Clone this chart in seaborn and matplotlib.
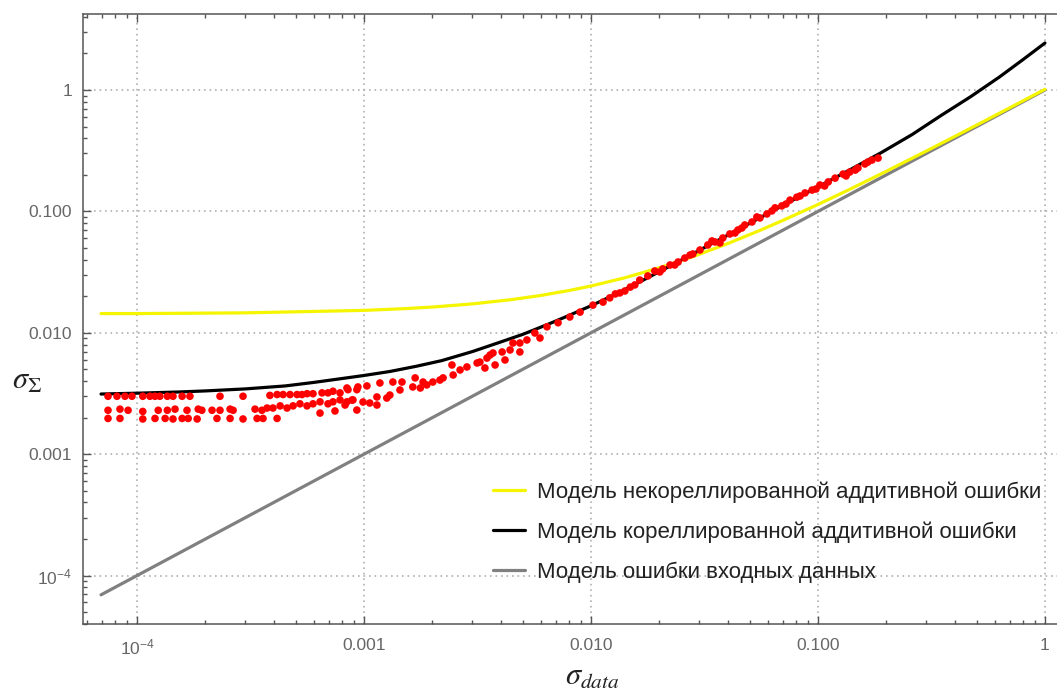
import numpy as np
import pandas as pd
import matplotlib
matplotlib.use("Agg")
import matplotlib.pyplot as plt
import seaborn as sns
from matplotlib.ticker import FixedLocator, FixedFormatter, NullFormatter

# ---------------- data ----------------
gray_x = [6.94e-5, 1.0]
gray_y = [6.94e-5, 1.0]

yellow_x = [6.94e-5, 1e-4, 3e-4, 1e-3, 1.5e-3, 2e-3, 3e-3, 4.5e-3, 6e-3, 8e-3, 1e-2, 1.4e-2, 2e-2,
            2.8e-2, 4e-2, 5.5e-2, 7e-2, 0.1, 0.14, 0.2, 0.3, 0.4, 0.55, 0.7, 1.0]
yellow_y = [0.0144, 0.0144, 0.0146, 0.0153, 0.0158, 0.0163, 0.0173, 0.0188, 0.0203, 0.0223, 0.0243,
            0.0283, 0.0343, 0.0423, 0.0543, 0.0693, 0.0843, 0.114, 0.154, 0.214, 0.314, 0.414,
            0.564, 0.714, 1.014]

black_x = [6.94e-5, 1e-4, 1.5e-4, 2e-4, 3e-4, 4.5e-4, 6e-4, 8e-4, 1e-3, 1.3e-3, 1.7e-3, 2.2e-3,
           3e-3, 4e-3, 5e-3, 6.5e-3, 8e-3, 1e-2, 1.3e-2, 1.7e-2, 2.2e-2, 3e-2, 4e-2, 5.5e-2,
           7.5e-2, 0.1, 0.14, 0.19, 0.26, 0.35, 0.47, 0.63, 0.8, 1.0]
black_y = [3.13e-3, 3.18e-3, 3.25e-3, 3.32e-3, 3.45e-3, 3.65e-3, 3.9e-3, 4.2e-3, 4.45e-3, 4.8e-3,
           5.3e-3, 5.9e-3, 7.0e-3, 8.4e-3, 9.7e-3, 1.18e-2, 1.39e-2, 1.67e-2, 2.1e-2, 2.72e-2,
           3.5e-2, 4.78e-2, 6.37e-2, 8.78e-2, 0.12, 0.159, 0.223, 0.305, 0.43, 0.62, 0.88, 1.28,
           1.78, 2.44]

# red measured points: upper row at low sigma
red_top_x = [7.45e-5, 8.16e-5, 8.85e-5, 9.5e-5, 1.06e-4, 1.14e-4, 1.2e-4, 1.26e-4, 1.36e-4, 1.44e-4,
             1.58e-4, 1.71e-4, 2.32e-4, 2.93e-4, 3.85e-4, 4.14e-4, 4.4e-4, 4.72e-4, 5.07e-4, 5.33e-4,
             5.61e-4, 5.96e-4, 6.53e-4, 6.94e-4, 7.3e-4, 7.84e-4, 8.5e-4, 9.3e-4]
red_top_y = [3.0e-3, 3.0e-3, 3.0e-3, 3.0e-3, 3.0e-3, 3.0e-3, 3.0e-3, 3.0e-3, 3.0e-3, 3.0e-3,
             3.0e-3, 3.0e-3, 3.0e-3, 3.0e-3, 3.05e-3, 3.1e-3, 3.1e-3, 3.1e-3, 3.1e-3, 3.1e-3,
             3.15e-3, 3.15e-3, 3.2e-3, 3.2e-3, 3.3e-3, 3.2e-3, 3.4e-3, 3.4e-3]
# middle row
red_mid_x = [7.45e-5, 8.41e-5, 9.13e-5, 1.06e-4, 1.24e-4, 1.36e-4, 1.47e-4, 1.66e-4, 1.86e-4, 1.93e-4,
             2.14e-4, 2.32e-4, 2.57e-4, 2.65e-4, 3.31e-4, 3.55e-4, 3.74e-4, 3.97e-4, 4.27e-4, 4.58e-4,
             4.87e-4, 5.22e-4, 5.61e-4, 5.96e-4, 6.4e-4, 6.94e-4, 7.3e-4, 7.84e-4, 8.41e-4, 8.94e-4]
red_mid_y = [2.3e-3, 2.35e-3, 2.3e-3, 2.25e-3, 2.3e-3, 2.3e-3, 2.35e-3, 2.3e-3, 2.35e-3, 2.3e-3,
             2.3e-3, 2.3e-3, 2.35e-3, 2.3e-3, 2.35e-3, 2.3e-3, 2.4e-3, 2.4e-3, 2.5e-3, 2.4e-3,
             2.5e-3, 2.6e-3, 2.5e-3, 2.6e-3, 2.7e-3, 2.6e-3, 2.7e-3, 2.8e-3, 2.7e-3, 2.8e-3]
# bottom row
red_bot_x = [7.45e-5, 8.41e-5, 1.06e-4, 1.2e-4, 1.33e-4, 1.44e-4, 1.58e-4, 1.68e-4, 1.84e-4, 2.25e-4,
             2.57e-4, 2.93e-4, 3.38e-4, 3.59e-4, 4.14e-4]
red_bot_y = [1.97e-3, 1.97e-3, 1.95e-3, 1.97e-3, 1.97e-3, 1.95e-3, 1.97e-3, 1.97e-3, 1.95e-3, 1.97e-3,
             1.97e-3, 1.95e-3, 1.97e-3, 1.97e-3, 1.97e-3]
# transition and upper band
red_band_x = [8.41e-4, 9.4e-4, 1.03e-3, 1.175e-3, 1.34e-3, 1.47e-3, 1.68e-3, 1.82e-3, 2.01e-3, 2.23e-3,
              2.44e-3, 2.65e-3, 2.84e-3, 3.15e-3, 3.48e-3, 3.70e-3, 4.06e-3, 4.40e-3, 4.86e-3,
              6.4e-4, 7.45e-4, 8.25e-4, 8.85e-4, 9.9e-4, 1.14e-3, 1.14e-3, 1.30e-3, 1.44e-3, 1.64e-3,
              1.77e-3, 9.3e-4, 1.06e-3, 1.26e-3, 1.89e-3, 2.16e-3, 2.47e-3,
              3.24e-3, 3.59e-3, 4.53e-3, 5.22e-3, 5.66e-3, 6.40e-3, 7.16e-3, 8.07e-3, 8.95e-3,
              1.02e-2, 1.13e-2, 3.41e-3, 3.78e-3, 4.18e-3, 4.86e-3, 5.96e-3,
              1.21e-2, 1.34e-2, 1.49e-2, 1.64e-2, 1.78e-2, 1.91e-2, 2.07e-2, 2.23e-2, 2.42e-2, 2.59e-2,
              2.81e-2, 3.02e-2, 3.27e-2, 3.52e-2, 3.81e-2, 4.09e-2, 4.44e-2, 4.76e-2, 5.12e-2, 5.55e-2,
              5.96e-2, 6.47e-2, 6.93e-2, 7.53e-2, 8.07e-2, 8.77e-2, 9.42e-2, 0.102, 0.111, 0.119,
              0.129, 0.138, 0.150, 0.161, 0.173, 0.184,
              1.28e-2, 1.56e-2, 2.01e-2, 2.73e-2, 3.41e-2, 4.31e-2, 5.38e-2, 7.23e-2, 9.8e-2, 0.133,
              0.166, 1.41e-2, 2.34e-2, 3.70e-2, 4.62e-2, 6.27e-2, 8.34e-2, 0.107, 0.146]
red_band_y = [3.51e-3, 3.58e-3, 3.65e-3, 3.86e-3, 3.93e-3, 3.93e-3, 4.25e-3, 3.93e-3, 3.93e-3, 4.25e-3,
              5.43e-3, 4.94e-3, 5.23e-3, 5.64e-3, 6.19e-3, 6.82e-3, 6.95e-3, 7.22e-3, 8.24e-3,
              2.18e-3, 2.27e-3, 2.54e-3, 2.79e-3, 2.69e-3, 2.54e-3, 2.96e-3, 3.07e-3, 3.38e-3, 3.58e-3,
              3.51e-3, 2.31e-3, 2.64e-3, 2.90e-3, 3.72e-3, 4.08e-3, 4.49e-3,
              5.74e-3, 6.56e-3, 8.24e-3, 8.73e-3, 9.96e-3, 1.12e-2, 1.21e-2, 1.35e-2, 1.48e-2,
              1.69e-2, 1.79e-2, 5.13e-3, 5.43e-3, 5.97e-3, 6.95e-3, 9.06e-3,
              1.94e-2, 2.13e-2, 2.38e-2, 2.72e-2, 2.94e-2, 3.23e-2, 3.36e-2, 3.62e-2, 3.83e-2, 4.13e-2,
              4.46e-2, 4.81e-2, 5.29e-2, 5.60e-2, 6.04e-2, 6.52e-2, 7.03e-2, 7.73e-2, 8.18e-2, 8.83e-2,
              9.53e-2, 0.107, 0.111, 0.124, 0.131, 0.142, 0.150, 0.165, 0.175, 0.188,
              0.203, 0.211, 0.228, 0.246, 0.265, 0.275,
              2.09e-2, 2.48e-2, 3.17e-2, 4.37e-2, 5.71e-2, 6.64e-2, 9.0e-2, 0.115, 0.153, 0.196,
              0.255, 2.21e-2, 3.62e-2, 5.5e-2, 7.3e-2, 0.101, 0.134, 0.162, 0.219]

legend_labels = ["Модель некореллированной аддитивной ошибки",
                 "Модель кореллированной аддитивной ошибки",
                 "Модель ошибки входных данных"]

x_major = [1e-4, 1e-3, 1e-2, 1e-1, 1.0]
x_major_labels = [r"$\mathregular{10^{-4}}$", "0.001", "0.010", "0.100", "1"]
y_major = [1e-4, 1e-3, 1e-2, 1e-1, 1.0]
y_major_labels = [r"$\mathregular{10^{-4}}$", "0.001", "0.010", "0.100", "1"]

# ---------------- plotting ----------------
sns.set_theme(style="white")
plt.rcParams['font.family'] = ['Liberation Sans', 'DejaVu Sans']

W, H = 1057, 691
fig = plt.figure(figsize=(W / 100, H / 100), dpi=100)
ax = fig.add_axes([83 / W, 1 - 624 / H, (W - 83) / W, (624 - 14) / H])

lw = 2.3
sns.lineplot(x=gray_x, y=gray_y, ax=ax, color="#808080", lw=lw, sort=False,
             estimator=None, label=legend_labels[2], zorder=2)
sns.lineplot(x=yellow_x, y=yellow_y, ax=ax, color="#f5f500", lw=lw, sort=False,
             estimator=None, label=legend_labels[0], zorder=3)
sns.lineplot(x=black_x, y=black_y, ax=ax, color="black", lw=lw, sort=False,
             estimator=None, label=legend_labels[1], zorder=4)

red_x = red_top_x + red_mid_x + red_bot_x + red_band_x
red_y = red_top_y + red_mid_y + red_bot_y + red_band_y
sns.scatterplot(x=red_x, y=red_y, ax=ax, color="#ff0000", s=30, edgecolor="none",
                linewidth=0, zorder=5, legend=False)

ax.set_xscale("log")
ax.set_yscale("log")
ax.set_xlim(5.78e-5, 1.13)
ax.set_ylim(3.99e-5, 4.23)

minor = []
for e in range(-5, 1):
    for m in range(2, 10):
        minor.append(m * 10.0 ** e)
ax.xaxis.set_major_locator(FixedLocator(x_major))
ax.xaxis.set_major_formatter(FixedFormatter(x_major_labels))
ax.xaxis.set_minor_locator(FixedLocator(minor))
ax.xaxis.set_minor_formatter(NullFormatter())
ax.yaxis.set_major_locator(FixedLocator(y_major))
ax.yaxis.set_major_formatter(FixedFormatter(y_major_labels))
ax.yaxis.set_minor_locator(FixedLocator(minor))
ax.yaxis.set_minor_formatter(NullFormatter())

tick_color = "#555555"
ax.tick_params(which="both", direction="in", top=True, right=False, bottom=True, left=True,
               color=tick_color, width=1.0)
ax.tick_params(which="major", length=6)
ax.tick_params(which="minor", length=3)
ax.tick_params(axis="x", which="major", pad=10, labelsize=12.5, labelcolor="#666666")
ax.tick_params(axis="y", which="major", pad=8, labelsize=12.5, labelcolor="#666666")

for side in ["left", "bottom", "top"]:
    ax.spines[side].set_color(tick_color)
    ax.spines[side].set_linewidth(1.1)
ax.spines["right"].set_visible(False)

ax.grid(True, which="major", linestyle=(0, (1, 2.3)), color="#b0b0b0", lw=1.2)
ax.set_axisbelow(True)
ax.set_xlabel("")
ax.set_ylabel("")

fig.text(27 / W, 1 - 381 / H, r"$\sigma_{\Sigma}$", math_fontfamily="stix", fontsize=22,
         ha="center", va="center", color="#222222")
fig.text(592 / W, 1 - 677 / H, r"$\sigma_{data}$", math_fontfamily="stix", fontsize=22,
         ha="center", va="center", color="#222222")

handles, labels = ax.get_legend_handles_labels()
order = [labels.index(l) for l in legend_labels]
leg = ax.legend([handles[i] for i in order], [labels[i] for i in order],
                loc="center left", bbox_to_anchor=(493 / W, 1 - 532 / H),
                bbox_transform=fig.transFigure, frameon=False, borderpad=0,
                borderaxespad=0, fontsize=16, labelspacing=0.83, handlelength=1.45,
                handletextpad=0.55)
for t in leg.get_texts():
    t.set_color("#222222")

fig.savefig("out.png", dpi=100)
